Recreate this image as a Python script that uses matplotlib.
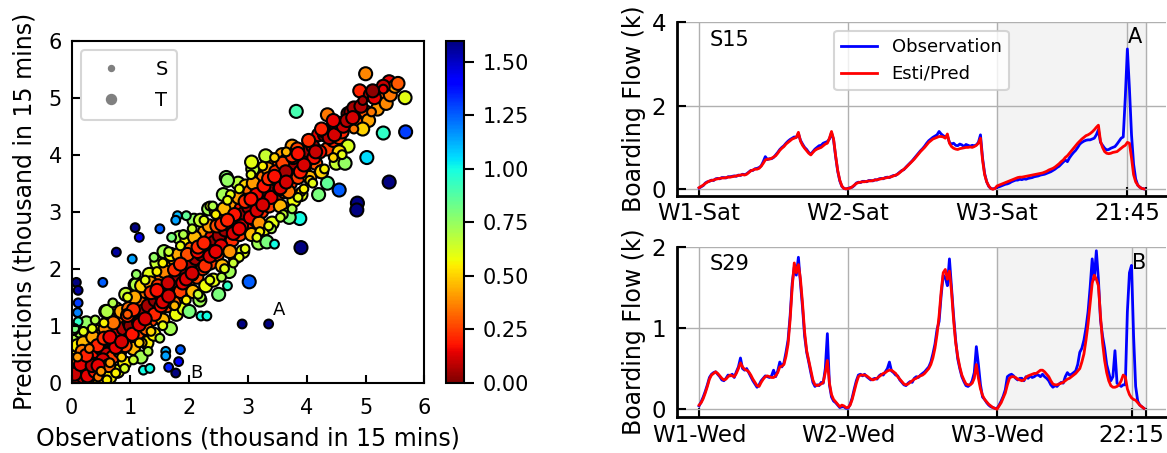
import numpy as np
import matplotlib.pyplot as plt
from matplotlib.lines import Line2D
from matplotlib.ticker import FormatStrFormatter

# ---- scatter data: large markers (T) ----
t_obs = [0.02,0.05,0.03,0.05,0.04,0.10,0.12,0.15,0.20,0.22, 0.25,0.28,0.30,0.33,0.35,0.38,0.40,0.42,0.45,0.48, 0.15,0.25,0.10,0.30,0.20,
         0.50,0.52,0.55,0.58,0.60,0.62,0.65,0.68,0.70,0.72, 0.75,0.78,0.80,0.82,0.85,0.88,0.90,0.92,0.95,0.98,
         1.00,1.02,1.05,1.08,1.10,1.12,1.15,1.18,1.20,1.22, 1.25,1.28,1.30,1.32,1.35,1.38,1.40,1.42,1.45,1.48,
         1.50,1.53,1.55,1.57,1.61,1.63,1.66,1.68,1.71,1.73, 1.76,1.78,1.81,1.83,1.85,1.88,1.91,1.93,1.96,1.98,
         2.01,2.03,2.06,2.08,2.11,2.13,2.16,2.18,2.21,2.23, 2.26,2.28,2.31,2.33,2.36,2.38,2.41,2.43,2.46,2.48,
         2.51,2.53,2.56,2.58,2.61,2.63,2.66,2.68,2.71,2.73, 2.76,2.78,2.81,2.83,2.86,2.88,2.91,2.93,2.96,2.98,
         3.01,3.03,3.06,3.08,3.11,3.13,3.16,3.18,3.21,3.23, 3.26,3.28,3.31,3.33,3.36,3.38,3.41,3.43,3.46,3.48,
         3.50,3.52,3.55,3.58,3.60,3.62,3.65,3.68,3.70,3.72, 3.75,3.78,3.80,3.85,3.88,3.90,3.92,3.95,
         4.00,4.05,4.10,4.15,4.20,4.25,4.30,4.35,4.40,4.45, 4.50,4.55,4.60,
         4.70,4.75,4.80,4.85,4.90,5.00,5.00,5.05,5.08,5.20, 5.25,5.35,5.40,5.42,5.50,5.67,4.35,4.70,4.55,4.50, 4.65,4.35,4.20,4.25,
         3.82,5.30,5.68,5.02,5.40,4.86,4.85,4.55,3.88,3.90, 3.02,2.63,2.65,3.30,3.06,3.70,3.32,2.50,2.00,1.10, 0.60]
t_pred = [0.05,0.30,0.45,0.60,0.80,0.15,0.02,0.35,0.10,0.50, 0.25,0.75,0.05,0.40,0.60,0.15,0.55,0.90,0.30,0.00, 0.90,1.05,0.65,0.28,0.70,
          0.60,0.85,0.25,1.25,0.50,0.75,0.10,1.00,0.45,0.70, 1.30,0.20,0.90,0.55,1.15,0.95,0.35,1.55,0.75,1.05,
          1.00,1.35,0.60,1.72,1.15,0.85,1.45,0.45,1.25,1.00, 1.60,0.70,1.35,1.90,1.10,1.55,0.85,1.45,2.10,1.25,
          1.55,1.85,1.10,2.30,1.65,1.35,2.00,0.95,1.75,1.50, 2.15,1.20,1.88,2.55,1.60,2.05,1.30,1.95,2.50,1.75,
          2.08,2.35,1.60,2.85,2.18,1.85,2.50,1.45,2.25,2.00, 2.65,1.70,2.38,3.05,2.10,2.55,1.80,2.47,3.00,2.25,
          2.58,2.85,2.05,3.30,2.68,2.35,3.00,1.95,2.75,2.50, 3.15,2.20,2.88,3.50,2.60,3.05,2.30,2.97,3.45,2.75,
          3.08,3.35,2.60,3.75,3.18,2.85,3.50,2.45,3.25,3.00, 3.60,2.70,3.38,3.95,3.10,3.55,2.80,3.47,3.85,3.25,
          3.55,3.80,3.10,4.00,3.62,3.35,3.90,2.95,3.75,3.50, 4.15,3.20,3.85,3.60,4.05,3.30,3.95,3.72,
          4.05,3.60,4.15,3.85,4.35,3.70,4.35,4.10,4.45,4.25, 4.50,4.30,4.40,
          4.72,4.75,4.82,4.55,5.12,4.75,5.42,4.60,5.05,4.80, 5.05,4.90,5.28,5.05,5.20,5.00,4.70,4.15,4.05,3.85, 3.85,3.50,3.30,3.70,
          4.76,4.38,4.40,3.95,3.52,3.15,3.03,3.38,2.88,2.37, 1.77,3.60,3.55,3.98,3.87,2.90,2.47,1.55,1.25,1.72, 1.25]
t_err = [0.05,0.25,0.40,0.55,0.70,0.05,0.10,0.20,0.10,0.30, 0.02,0.48,0.25,0.08,0.28,0.22,0.18,0.50,0.15,0.48, 0.72,0.75,0.55,0.03,0.45,
         0.10,0.35,0.30,0.70,0.10,0.15,0.55,0.35,0.25,0.03, 0.60,0.60,0.12,0.27,0.30,0.07,0.55,0.65,0.20,0.07,
         0.02,0.35,0.45,0.68,0.05,0.27,0.30,0.72,0.05,0.22, 0.35,0.55,0.05,0.60,0.25,0.17,0.55,0.03,0.65,0.23,
         0.05,0.33,0.45,0.72,0.05,0.27,0.35,0.72,0.05,0.22, 0.40,0.58,0.05,0.72,0.25,0.17,0.60,0.03,0.55,0.23,
         0.05,0.33,0.45,0.75,0.05,0.27,0.35,0.73,0.05,0.22, 0.40,0.58,0.05,0.72,0.25,0.17,0.60,0.03,0.55,0.23,
         0.05,0.33,0.45,0.72,0.05,0.27,0.35,0.73,0.05,0.22, 0.40,0.58,0.05,0.68,0.25,0.17,0.60,0.03,0.50,0.23,
         0.05,0.33,0.45,0.67,0.05,0.27,0.35,0.73,0.05,0.22, 0.35,0.58,0.05,0.63,0.25,0.17,0.60,0.03,0.40,0.23,
         0.05,0.28,0.45,0.40,0.03,0.27,0.25,0.73,0.05,0.22, 0.40,0.58,0.05,0.25,0.17,0.60,0.03,0.23,
         0.05,0.45,0.05,0.30,0.15,0.55,0.05,0.25,0.05,0.20, 0.03,0.25,0.20,
         0.03,0.05,0.05,0.30,0.20,0.30,0.37,0.42,0.05,0.40, 0.30,0.38,0.15,0.35,0.40,0.60,0.35,0.62,0.50,0.65, 0.75,0.85,0.80,0.50,
         0.90,0.95,1.30,1.05,1.60,1.60,1.60,1.25,1.00,1.60, 1.25,0.78,0.75,0.65,0.60,0.80,0.80,0.80,0.80,0.70, 0.70]

# more large markers filling the band
t2_obs = [0.05,0.08,0.18,0.27,0.36,0.44,0.02,0.40, 0.53,0.57,0.63,0.71,0.77,0.84,0.91,0.97,
          1.03,1.07,1.14,1.19,1.27,1.34,1.41,1.47, 1.52,1.58,1.64,1.69,1.74,1.82,1.89,1.97,
          2.04,2.09,2.14,2.19,2.27,2.34,2.39,2.47, 2.54,2.59,2.64,2.69,2.77,2.84,2.89,2.97,
          3.04,3.09,3.14,3.19,3.27,3.34,3.39,3.47, 3.54,3.59,3.64,3.69,3.77,3.84,3.89,3.97,
          4.03,4.12,4.22,4.28,4.38,4.47,
          0.15,0.35,0.55,0.75,0.95,1.15,1.35,1.55,1.75,1.95, 2.15,2.35,2.55,2.75,2.95,3.15,3.35,3.55,3.75,3.95,
          0.25,0.45,0.65,0.85,1.05,1.25,1.45,1.65,1.85,2.05, 2.25,2.45,2.65,2.85,3.05,3.25,3.45,3.65,3.85,4.15,
          4.55,4.62,4.68,4.78,4.92,5.15,5.30,5.55,4.95,5.12, 4.45,4.25]
t2_pred = [0.15,0.40,0.55,0.12,0.80,0.65,0.95,0.20, 0.40,0.95,0.30,1.05,0.62,1.25,0.65,1.30,
           0.85,1.50,1.05,1.70,0.95,1.75,1.20,1.70, 1.35,1.95,1.75,2.25,1.40,2.25,1.75,2.25,
           1.90,2.55,2.30,2.85,2.05,2.75,2.30,2.75, 2.40,3.05,2.80,2.30,2.95,3.25,2.75,3.20,
           2.90,3.50,3.30,2.80,3.45,3.75,3.25,3.70, 3.40,3.85,3.70,3.35,3.95,4.10,3.70,3.85,
           4.25,3.95,4.05,4.42,4.30,4.35,
           0.32,0.30,0.78,0.62,1.18,1.02,1.58,1.42,1.98,1.82, 2.38,2.22,2.78,2.62,3.18,3.02,3.58,3.42,3.98,3.82,
           0.48,0.30,0.80,0.72,1.28,1.12,1.62,1.52,2.08,1.92, 2.45,2.30,2.85,2.70,3.22,3.12,3.62,3.52,4.02,4.05,
           4.55,4.50,4.60,4.65,4.85,5.00,5.20,5.25,4.45,5.12, 4.60,4.45]
t2_err = [0.10,0.32,0.35,0.15,0.42,0.20,0.75,0.20, 0.12,0.38,0.33,0.34,0.15,0.42,0.26,0.33,
          0.18,0.43,0.09,0.50,0.32,0.41,0.21,0.23, 0.17,0.37,0.11,0.56,0.34,0.43,0.14,0.28,
          0.14,0.46,0.16,0.66,0.22,0.41,0.09,0.28, 0.14,0.46,0.16,0.39,0.18,0.41,0.14,0.23,
          0.14,0.41,0.16,0.39,0.18,0.41,0.14,0.23, 0.14,0.26,0.06,0.34,0.18,0.26,0.19,0.12,
          0.22,0.17,0.17,0.14,0.08,0.12,
          0.15,0.08,0.22,0.15,0.22,0.13,0.22,0.13,0.22,0.13, 0.22,0.13,0.22,0.13,0.22,0.13,0.22,0.13,0.22,0.13,
          0.20,0.15,0.15,0.12,0.22,0.12,0.17,0.12,0.22,0.12, 0.20,0.15,0.20,0.15,0.17,0.12,0.17,0.12,0.17,0.10,
          0.05,0.10,0.08,0.12,0.07,0.15,0.10,0.30,0.50,0.02, 0.15,0.20]

# ---- scatter data: small markers (S) ----
s_obs = [2.90,3.35,1.85,1.60,1.60,1.82,1.65,1.77,1.22,1.33, 2.20,2.30,1.08,1.15,1.50,0.76,1.03,0.53,1.80,1.77, 0.08,0.11,0.11,0.10,0.11,3.45,2.65,
         0.75,0.90,1.05,1.30,1.50,1.95,1.90,3.90,3.40,2.20, 2.35,0.60,0.35,0.95,2.85,3.60,0.05,4.05,2.70,1.55, 1.20,0.45,3.20]
s_pred = [1.03,1.03,0.58,0.55,0.47,0.37,0.27,0.17,0.22,0.25, 1.17,1.17,2.72,2.55,2.70,2.29,2.17,1.76,2.93,2.85, 1.76,1.62,1.40,1.23,1.07,2.43,1.70,
          0.17,0.25,0.40,0.55,0.78,2.93,2.60,3.35,2.70,1.50, 3.10,0.05,0.95,1.50,2.20,2.95,0.95,3.55,3.30,2.10, 0.70,0.10,2.65]
s_err = [1.60,1.60,1.25,1.12,1.15,1.40,1.35,1.60,1.00,1.00, 1.00,1.00,1.60,1.45,1.25,1.55,1.15,1.25,1.10,1.15, 1.60,1.55,1.30,1.20,0.95,1.00,0.95,
         0.55,0.62,0.65,0.70,0.70,0.85,0.70,0.50,0.70,0.70, 0.60,0.55,0.60,0.60,0.60,0.65,0.80,0.50,0.60,0.55, 0.45,0.35,0.55]

s2_obs = [0.10,0.20,0.30,0.55,0.65,0.70,0.85,0.95,0.50,0.40,
          1.10,1.15,1.25,1.35,1.45,1.55,1.65,1.75,1.85,1.95,1.40,1.70,
          2.05,2.15,2.25,2.35,2.45,2.55,2.65,2.75,2.85,2.95,2.40,2.60,
          3.05,3.15,3.25,3.35,3.45,3.55,3.65,3.75,3.85,3.95,
          4.10,4.30,4.45,4.60,4.80,5.10,5.30,4.95]
s2_pred = [0.45,0.90,0.60,1.05,0.35,1.40,0.45,1.20,0.20,1.10,
           1.90,0.70,1.80,0.90,1.95,1.00,2.30,1.35,2.40,1.45,2.20,2.55,
           2.70,1.55,2.85,1.80,2.95,1.85,3.20,2.10,3.40,2.35,3.10,2.00,
           3.65,2.55,3.80,2.75,3.95,2.90,4.05,3.05,3.25,3.40,
           3.50,3.75,3.95,4.00,4.45,4.75,5.15,4.95]
s2_err = [0.40,0.60,0.35,0.55,0.40,0.70,0.50,0.30,0.40,0.70,
          0.75,0.50,0.60,0.50,0.55,0.60,0.65,0.45,0.60,0.55,0.75,0.80,
          0.65,0.65,0.60,0.60,0.55,0.70,0.60,0.65,0.60,0.60,0.70,0.60,
          0.60,0.60,0.55,0.60,0.50,0.65,0.45,0.70,0.60,0.55,
          0.60,0.55,0.50,0.60,0.35,0.35,0.15,0.05]

# ---- S15 boarding flow (Saturdays, 6:00-24:00, 15 min) ----
s15_obs_w1 = [0.03,0.06,0.09,0.15,0.18,0.19,0.22,0.21,0.25,0.26, 0.25,0.28,0.28,0.27,0.30,0.30,0.31,0.32,0.31,0.34,
              0.33,0.36,0.35,0.37,0.41,0.45,0.45,0.49,0.50,0.52, 0.56,0.66,0.78,0.71,0.73,0.73,0.76,0.82,0.88,0.95,
              1.00,1.04,1.10,1.15,1.19,1.22,1.25,1.24,1.33,1.17, 1.08,1.00,0.95,0.88,0.84,0.90,0.96,1.00,1.04,1.05,
              1.10,1.12,1.14,1.20,1.35,1.18,0.78,0.43,0.20,0.07, 0.02,0.01]
s15_est_w1 = [0.04,0.07,0.10,0.14,0.17,0.20,0.21,0.22,0.24,0.25, 0.26,0.27,0.27,0.28,0.29,0.29,0.30,0.31,0.32,0.33,
              0.34,0.35,0.34,0.36,0.40,0.44,0.46,0.48,0.48,0.50, 0.55,0.62,0.70,0.72,0.72,0.74,0.77,0.80,0.86,0.93,
              0.98,1.02,1.08,1.12,1.16,1.20,1.22,1.24,1.36,1.15, 1.05,0.98,0.92,0.86,0.82,0.88,0.93,0.96,0.98,1.00,
              1.04,1.08,1.10,1.22,1.38,1.20,0.80,0.45,0.22,0.08, 0.02,0.01]
s15_obs_w2 = [0.02,0.04,0.05,0.09,0.15,0.17,0.16,0.19,0.19,0.18, 0.21,0.21,0.20,0.23,0.22,0.25,0.26,0.25,0.28,0.29,
              0.28,0.31,0.33,0.33,0.37,0.41,0.45,0.47,0.53,0.58, 0.63,0.68,0.74,0.80,0.86,0.92,0.97,1.03,1.10,1.16,
              1.20,1.24,1.27,1.30,1.38,1.32,1.28,1.25,1.28,1.12, 1.08,1.10,1.05,1.04,1.08,1.06,1.02,1.07,1.05,1.03,
              1.05,1.04,1.06,1.12,1.30,0.75,0.38,0.18,0.07,0.02, 0.01,0.02]
s15_est_w2 = [0.02,0.03,0.06,0.10,0.14,0.16,0.17,0.18,0.18,0.19, 0.20,0.20,0.21,0.22,0.23,0.24,0.25,0.26,0.27,0.28,
              0.29,0.30,0.32,0.34,0.36,0.40,0.44,0.48,0.52,0.57, 0.62,0.67,0.72,0.78,0.84,0.90,0.95,1.00,1.06,1.12,
              1.16,1.20,1.22,1.24,1.26,1.26,1.25,1.22,1.32,1.10, 1.02,0.98,0.96,0.95,0.97,0.98,0.99,1.00,1.00,1.01,
              1.00,1.02,1.05,1.10,1.22,0.70,0.35,0.18,0.08,0.02, 0.00,0.02]
s15_obs_w3 = [0.05,0.06,0.08,0.10,0.12,0.13,0.15,0.18,0.20,0.22, 0.22,0.24,0.23,0.25,0.24,0.26,0.27,0.28,0.30,0.31,
              0.32,0.34,0.35,0.36,0.38,0.40,0.42,0.45,0.48,0.52, 0.55,0.60,0.65,0.70,0.66,0.75,0.82,0.88,0.93,1.00,
              1.08,1.12,1.15,1.17,1.18,1.18,1.20,1.22,1.30,1.42, 1.12,1.05,0.98,0.94,0.95,0.98,1.00,1.02,1.08,1.15,
              1.22,1.25,2.20,3.35,2.40,1.30,0.60,0.25,0.10,0.05, 0.02,0.01]
s15_est_w3 = [0.08,0.10,0.12,0.14,0.16,0.18,0.20,0.22,0.24,0.26, 0.28,0.29,0.29,0.30,0.31,0.32,0.33,0.34,0.35,0.36,
              0.37,0.38,0.39,0.41,0.43,0.46,0.48,0.50,0.53,0.57, 0.61,0.66,0.70,0.76,0.80,0.86,0.92,0.98,1.04,1.10,
              1.15,1.20,1.24,1.28,1.30,1.33,1.37,1.42,1.48,1.53, 1.15,1.00,0.90,0.86,0.85,0.86,0.88,0.89,0.90,0.94,
              0.98,1.02,1.05,1.12,1.10,0.75,0.35,0.18,0.10,0.05, 0.02,0.01]

# ---- S29 boarding flow (Wednesdays) ----
s29_obs_w1 = [0.04,0.09,0.15,0.22,0.30,0.39,0.43,0.45,0.46,0.43, 0.40,0.36,0.35,0.38,0.42,0.41,0.43,0.39,0.46,0.52,
              0.63,0.50,0.48,0.50,0.45,0.40,0.35,0.31,0.27,0.30, 0.35,0.38,0.41,0.40,0.39,0.41,0.48,0.40,0.47,0.58,
              0.52,0.57,0.70,0.85,1.15,1.55,1.75,1.65,1.87,1.55, 1.25,0.90,0.70,0.58,0.45,0.33,0.28,0.30,0.29,0.33,
              0.32,0.50,0.93,0.30,0.15,0.10,0.08,0.05,0.02,0.03, 0.03,0.01]
s29_est_w1 = [0.05,0.08,0.13,0.20,0.28,0.37,0.42,0.44,0.46,0.44, 0.41,0.38,0.36,0.37,0.40,0.42,0.41,0.40,0.44,0.50,
              0.57,0.52,0.49,0.48,0.46,0.42,0.37,0.33,0.29,0.28, 0.33,0.37,0.40,0.41,0.40,0.39,0.39,0.41,0.45,0.52,
              0.53,0.55,0.65,0.80,1.10,1.50,1.80,1.68,1.78,1.60, 1.30,0.95,0.72,0.60,0.48,0.36,0.30,0.29,0.30,0.31,
              0.33,0.45,0.60,0.32,0.18,0.12,0.09,0.06,0.03,0.05, 0.04,0.02]
s29_obs_w2 = [0.01,0.06,0.14,0.25,0.35,0.42,0.43,0.41,0.43,0.40, 0.38,0.36,0.37,0.38,0.37,0.41,0.43,0.42,0.46,0.50,
              0.58,0.47,0.45,0.42,0.41,0.36,0.33,0.30,0.29,0.32, 0.34,0.33,0.38,0.40,0.39,0.42,0.44,0.46,0.49,0.52,
              0.58,0.68,0.80,0.98,1.08,1.40,1.65,1.62,1.52,1.85, 1.50,1.15,0.85,0.62,0.50,0.40,0.34,0.29,0.28,0.30,
              0.35,0.45,0.77,0.55,0.30,0.15,0.12,0.08,0.05,0.03, 0.02,0.01]
s29_est_w2 = [0.02,0.05,0.12,0.22,0.32,0.40,0.42,0.42,0.42,0.41, 0.39,0.37,0.36,0.37,0.38,0.40,0.42,0.44,0.45,0.47,
              0.48,0.48,0.46,0.44,0.40,0.37,0.34,0.31,0.30,0.31, 0.33,0.35,0.37,0.38,0.40,0.41,0.42,0.44,0.47,0.50,
              0.55,0.63,0.75,0.92,1.15,1.45,1.68,1.72,1.60,1.70, 1.45,1.10,0.82,0.65,0.52,0.42,0.36,0.31,0.30,0.30,
              0.32,0.38,0.55,0.38,0.25,0.17,0.12,0.09,0.06,0.04, 0.02,0.01]
s29_obs_w3 = [0.01,0.05,0.10,0.16,0.24,0.40,0.42,0.43,0.41,0.38, 0.36,0.38,0.38,0.35,0.40,0.38,0.41,0.39,0.40,0.42,
              0.42,0.40,0.43,0.40,0.38,0.35,0.30,0.27,0.29,0.28, 0.31,0.33,0.32,0.40,0.45,0.42,0.43,0.45,0.47,0.55,
              0.70,0.75,0.85,1.00,1.20,1.50,1.85,1.60,1.95,1.60, 1.10,0.90,0.75,0.55,0.45,0.35,0.40,0.72,0.32,0.30,
              0.28,0.30,0.30,1.20,1.68,1.77,0.90,0.28,0.10,0.05, 0.03,0.01]
s29_est_w3 = [0.00,0.04,0.08,0.14,0.20,0.30,0.38,0.40,0.40,0.39, 0.37,0.36,0.35,0.36,0.39,0.41,0.42,0.43,0.44,0.44,
              0.46,0.48,0.48,0.46,0.43,0.40,0.35,0.31,0.30,0.30, 0.31,0.32,0.33,0.35,0.37,0.38,0.40,0.42,0.44,0.47,
              0.50,0.58,0.68,0.85,1.05,1.30,1.55,1.65,1.60,1.52, 1.15,0.82,0.60,0.45,0.35,0.29,0.27,0.27,0.28,0.30,
              0.35,0.42,0.40,0.25,0.18,0.14,0.12,0.11,0.08,0.05, 0.03,0.01]

top_ticks = [0, 72, 144, 207, 216]
top_labels = ['W1-Sat', 'W2-Sat', 'W3-Sat', '21:45', '']
bot_ticks = [0, 72, 144, 209, 216]
bot_labels = ['W1-Wed', 'W2-Wed', 'W3-Wed', '22:15', '']

fig = plt.figure(figsize=(11.67, 4.53), dpi=100)

#### scatter
ax0 = fig.add_axes([0.0614, 0.1552, 0.3023, 0.755])
cax = fig.add_axes([0.3822, 0.1552, 0.0157, 0.755])

big_obs = t_obs + t2_obs
small_obs = s_obs + s2_obs
obs = np.array(big_obs + small_obs)
pred = np.array(t_pred + t2_pred + s_pred + s2_pred)
err = np.array(t_err + t2_err + s_err + s2_err)
size = np.array([88] * len(big_obs) + [40] * len(small_obs))

sc = ax0.scatter(obs, pred, c=err, s=size, cmap='jet_r',
                 vmin=0, vmax=1.6, edgecolors='black', linewidths=1.5)
ax0.set_xlim(0, 6); ax0.set_ylim(0, 6)
ax0.set_xticks(range(7)); ax0.set_yticks(range(7))
ax0.tick_params(direction='in', length=6, width=1.5, labelsize=15, pad=7)
ax0.tick_params(axis='x', pad=11)
for sp in ax0.spines.values():
    sp.set_linewidth(1.5)
ax0.set_xlabel('Observations (thousand in 15 mins)', fontsize=17, labelpad=6)
ax0.set_ylabel('Predictions (thousand in 15 mins)', fontsize=17, labelpad=9)
ax0.text(3.42, 1.19, 'A', fontsize=13)
ax0.text(2.02, 0.08, 'B', fontsize=13)

handles = [Line2D([], [], marker='o', ls='', color='grey', markersize=4.3, label='S'),
           Line2D([], [], marker='o', ls='', color='grey', markersize=7.2, label='T')]
leg0 = ax0.legend(handles=handles, loc='upper left', fontsize=14, handletextpad=1.3,
                  borderpad=0.5, labelspacing=0.6, edgecolor='0.8')
leg0.get_frame().set_linewidth(1.5)

cb = fig.colorbar(sc, cax=cax, ticks=[0, 0.25, 0.5, 0.75, 1.0, 1.25, 1.5])
cb.ax.yaxis.set_major_formatter(FormatStrFormatter('%.2f'))
cb.ax.tick_params(labelsize=15, length=7, width=1.5, pad=6)
cb.outline.set_linewidth(1.5)

#### time series
x = np.arange(216)

ax1 = fig.add_axes([0.5799, 0.5673, 0.4193, 0.3848])
ax2 = fig.add_axes([0.5799, 0.0788, 0.4193, 0.3766])

ax1.axvspan(144, 216, color='#f3f3f3', zorder=0)
ax1.plot(x, s15_obs_w1 + s15_obs_w2 + s15_obs_w3, c='blue', lw=2, label='Observation')
ax1.plot(x, s15_est_w1 + s15_est_w2 + s15_est_w3, c='red', lw=2, label='Esti/Pred')
ax1.set_xlim(-10.8, 225.7); ax1.set_ylim(-0.16, 4)
ax1.set_xticks(top_ticks); ax1.set_xticklabels(top_labels)
ax1.set_yticks([0, 2, 4])
ax1.text(0.068, 0.955, 'S15', transform=ax1.transAxes, fontsize=15, va='top')
ax1.text(207, 3.5, 'A', fontsize=15)
leg1 = ax1.legend(loc='upper center', fontsize=13, edgecolor='0.8')
leg1.get_frame().set_linewidth(1.5)

ax2.axvspan(144, 216, color='#f3f3f3', zorder=0)
ax2.plot(x, s29_obs_w1 + s29_obs_w2 + s29_obs_w3, c='blue', lw=2)
ax2.plot(x, s29_est_w1 + s29_est_w2 + s29_est_w3, c='red', lw=2)
ax2.set_xlim(-10.8, 225.7); ax2.set_ylim(-0.1, 2)
ax2.set_xticks(bot_ticks); ax2.set_xticklabels(bot_labels)
ax2.set_yticks([0, 1, 2])
ax2.text(0.068, 0.955, 'S29', transform=ax2.transAxes, fontsize=15, va='top')
ax2.text(209, 1.73, 'B', fontsize=15)

for ax in (ax1, ax2):
    ax.grid(True, color='#b0b0b0', lw=1)
    ax.set_axisbelow(True)
    ax.spines['top'].set_visible(False)
    ax.spines['right'].set_visible(False)
    ax.spines['left'].set_linewidth(2)
    ax.spines['bottom'].set_linewidth(2)
    ax.tick_params(direction='in', length=6.5, width=1.5, labelsize=16.5)
    ax.tick_params(axis='x', pad=4.5)
    ax.tick_params(axis='y', pad=7.5)
    ax.set_ylabel('Boarding Flow (k)', fontsize=17)

plt.savefig('out.png', dpi=100)
